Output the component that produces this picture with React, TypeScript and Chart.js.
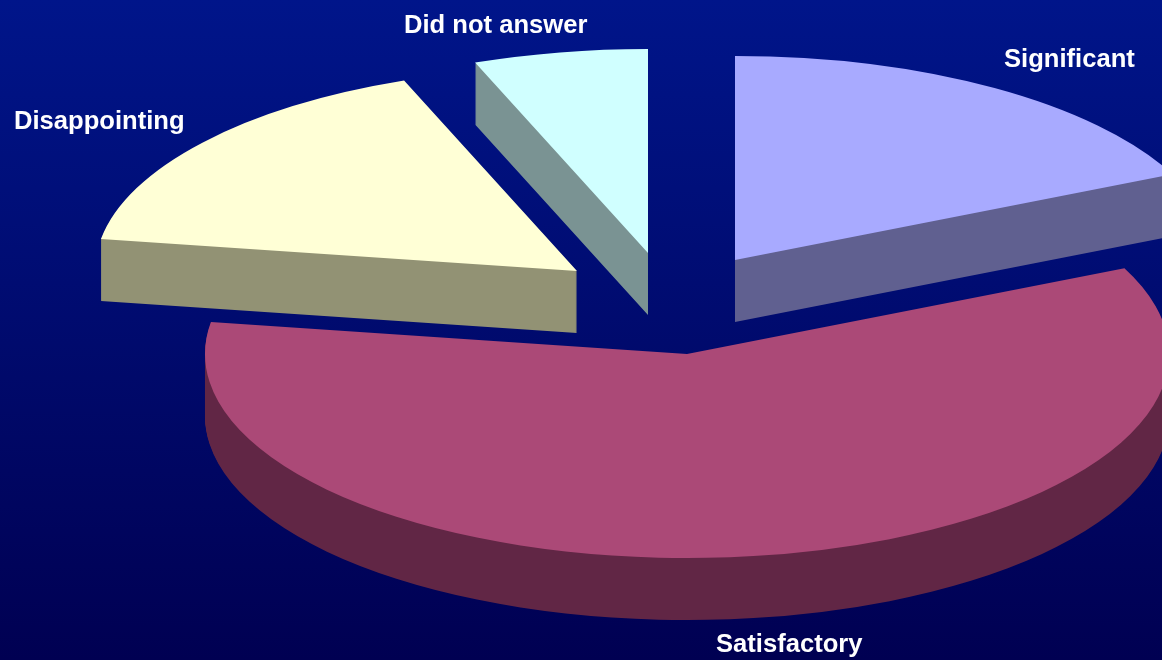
import React, { useEffect, useRef } from "react";
import { Chart, registerables } from "chart.js";

Chart.register(...registerables);

const categories = ["Significant", "Satisfactory", "Disappointing", "Did not answer"];
const shares = [18.1, 59.4, 16.66, 5.84];

const topColors = ["#A8AAFF", "#AB4977", "#FFFFD6", "#D0FFFF"];
const sideColors = ["#606090", "#612645", "#929274", "#7A9393"];
const apexX = [735, 687, 577, 648];
const apexY = [260, 354, 271, 253];
const labelX = [1004, 716, 14, 404];
const labelY = [67, 652, 129, 33];
const drawOrder = [3, 0, 2, 1];

const RX = 482;
const RY = 204;
const DEPTH = 62;
const WIDTH = 1162;
const HEIGHT = 660;

const pie3d = {
  id: "pie3d",
  beforeDraw(chart: any) {
    const { ctx } = chart;
    const g = ctx.createLinearGradient(0, 0, 0, HEIGHT);
    g.addColorStop(0, "#00158A");
    g.addColorStop(1, "#000052");
    ctx.save();
    ctx.fillStyle = g;
    ctx.fillRect(0, 0, WIDTH, HEIGHT);
    ctx.restore();
  },
  beforeDatasetDraw(chart: any, args: any) {
    const { ctx } = chart;
    const arcs = args.meta.data;
    const paint = (target: CanvasRenderingContext2D, arc: any, i: number, dy: number, color: string) => {
      const original = arc.options;
      arc.options = { ...original, backgroundColor: color, borderWidth: 0 };
      target.save();
      target.translate(apexX[i], apexY[i] + dy);
      target.scale(RX / arc.outerRadius, RY / arc.outerRadius);
      target.translate(-arc.x, -arc.y);
      arc.draw(target);
      target.restore();
      arc.options = original;
    };
    // The side wall is stacked on a separate layer and tinted once, so it stays one flat colour.
    const layer = document.createElement("canvas");
    layer.width = WIDTH;
    layer.height = HEIGHT;
    const lc = layer.getContext("2d")!;
    for (const i of drawOrder) {
      lc.globalCompositeOperation = "source-over";
      lc.clearRect(0, 0, WIDTH, HEIGHT);
      for (let dy = DEPTH; dy >= 1; dy--) paint(lc, arcs[i], i, dy, "#FFFFFF");
      lc.globalCompositeOperation = "source-in";
      lc.fillStyle = sideColors[i];
      lc.fillRect(0, 0, WIDTH, HEIGHT);
      ctx.drawImage(layer, 0, 0);
      paint(ctx, arcs[i], i, 0, topColors[i]);
    }
    return false;
  },
  afterDraw(chart: any) {
    const { ctx } = chart;
    ctx.save();
    ctx.font = 'bold 25.6px "Liberation Sans", Arial, sans-serif';
    ctx.fillStyle = "#FFFFFF";
    ctx.textAlign = "left";
    ctx.textBaseline = "alphabetic";
    chart.data.labels.forEach((label: string, i: number) => {
      ctx.fillText(label, labelX[i], labelY[i]);
    });
    ctx.restore();
  },
};

export default function App() {
  const ref = useRef<HTMLCanvasElement>(null);
  useEffect(() => {
    document.body.style.margin = "0";
    document.body.style.overflow = "hidden";
    const chart = new Chart(ref.current!, {
      type: "pie",
      data: {
        labels: categories,
        datasets: [{ data: shares, backgroundColor: topColors, borderWidth: 0 }],
      },
      options: {
        responsive: false,
        animation: false,
        layout: { padding: 0 },
        plugins: { legend: { display: false }, tooltip: { enabled: false } },
      },
      plugins: [pie3d],
    } as any);
    return () => chart.destroy();
  }, []);
  return <canvas ref={ref} width={WIDTH} height={HEIGHT} style={{ display: "block" }} />;
}
